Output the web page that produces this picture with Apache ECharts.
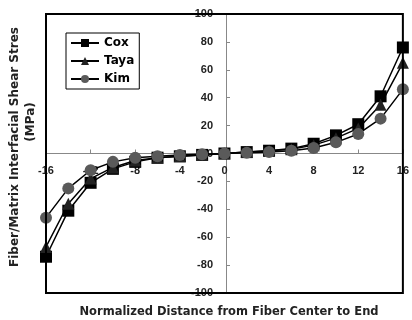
<!DOCTYPE html>
<html>
<head>
<meta charset="utf-8">
<script src="https://cdn.jsdelivr.net/npm/echarts@6/dist/echarts.min.js"></script>
<style>
  html, body { margin: 0; padding: 0; background: #fff; }
  #chart { width: 412px; height: 320px; }
</style>
</head>
<body>
<div id="chart"></div>
<script>
// normalized distance from fiber center
const distance = [-16, -14, -12, -10, -8, -6, -4, -2, 0, 2, 4, 6, 8, 10, 12, 14, 16]
const cox  = [-74, -41, -21, -11, -6, -3, -2, -1, 0, 1, 2, 3.5, 7, 13, 21, 41, 76]
const taya = [-67, -36, -18, -10, -5, -3, -2, -1, 0, 1, 2, 3, 6, 11, 18, 35, 65]
const kim  = [-46, -25, -12, -6, -3, -2, -1, -0.5, 0, 0.5, 1, 2, 4, 8, 14, 25, 46]
const seriesNames = ['Cox', 'Taya', 'Kim']

const font = '"Liberation Sans", Arial, sans-serif'
const wideFont = '"DejaVu Sans", sans-serif'
const chart = echarts.init(document.getElementById('chart'), null, { renderer: 'canvas' })

// grid box: x 46..406, y 14..293 -> zero lines at x=226, y=153.5
const gridLeft = 46, gridRight = 6, gridTop = 14, gridBottom = 27

const pairs = (ys) => distance.map((x, i) => [x, ys[i]])

const mkSeries = (name, ys, symbol, size, color) => ({
  name,
  type: 'line',
  data: pairs(ys),
  symbol,
  symbolSize: size,
  showAllSymbol: true,
  lineStyle: { color: '#000', width: 1.5 },
  itemStyle: { color, borderWidth: 0 },
  z: 3
})

chart.setOption({
  animation: false,
  backgroundColor: '#fff',
  grid: {
    left: gridLeft, right: gridRight, top: gridTop, bottom: gridBottom,
    show: true, borderColor: '#000', borderWidth: 2, backgroundColor: 'transparent',
    z: 5
  },
  legend: {
    left: 66, top: 33,
    orient: 'vertical',
    data: seriesNames,
    itemWidth: 28, itemHeight: 10, itemGap: 6,
    padding: [4, 5, 4, 4],
    borderColor: '#000', borderWidth: 1,
    textStyle: { fontFamily: wideFont, fontWeight: 'bold', fontSize: 12, color: '#000' }
  },
  xAxis: {
    type: 'value',
    min: -16, max: 16, interval: 4,
    offset: -(320 - gridTop - gridBottom) / 2,
    axisLine: { onZero: false, lineStyle: { color: '#888', width: 1 } },
    axisTick: { inside: true, length: 4, lineStyle: { color: '#888' } },
    axisLabel: {
      margin: 12, color: '#222', fontFamily: font, fontWeight: 'bold', fontSize: 11,
      showMinLabel: true, showMaxLabel: true
    },
    splitLine: { show: false }
  },
  yAxis: {
    type: 'value',
    min: -100, max: 100, interval: 20,
    offset: -(412 - gridLeft - gridRight) / 2,
    axisLine: { onZero: false, lineStyle: { color: '#888', width: 1 } },
    axisTick: { inside: true, length: 4, lineStyle: { color: '#888' } },
    axisLabel: {
      margin: 13, color: '#222', fontFamily: font, fontWeight: 'bold', fontSize: 11,
      showMinLabel: true, showMaxLabel: true
    },
    splitLine: { show: false }
  },
  graphic: [
    {
      type: 'text',
      x: 15, y: 147, rotation: Math.PI / 2,
      style: {
        text: 'Fiber/Matrix Interfacial Shear Stres',
        fontFamily: wideFont, fontWeight: 'bold', fontSize: 12, fill: '#222',
        align: 'center', verticalAlign: 'middle'
      }
    },
    {
      type: 'text',
      x: 31, y: 122, rotation: Math.PI / 2,
      style: {
        text: '(MPa)',
        fontFamily: wideFont, fontWeight: 'bold', fontSize: 12, fill: '#222',
        align: 'center', verticalAlign: 'middle'
      }
    },
    {
      type: 'text',
      x: 229, y: 312,
      style: {
        text: 'Normalized Distance from Fiber Center to End',
        fontFamily: wideFont, fontWeight: 'bold', fontSize: 11.5, fill: '#222',
        align: 'center', verticalAlign: 'middle'
      }
    }
  ],
  series: [
    mkSeries('Cox', cox, 'rect', 12, '#000'),
    mkSeries('Taya', taya, 'triangle', 12, '#222'),
    mkSeries('Kim', kim, 'circle', 12, '#5a5a5a')
  ]
})
</script>
</body>
</html>
